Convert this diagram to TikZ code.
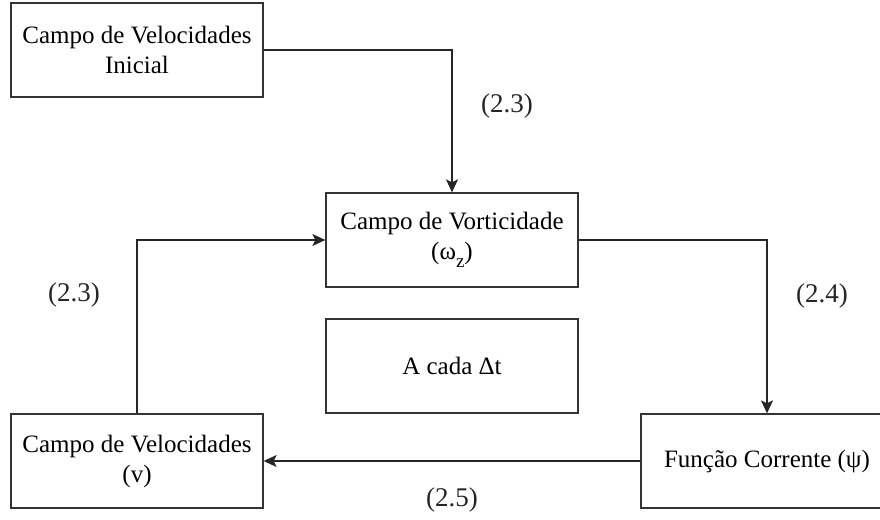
\documentclass[tikz,border=0pt]{standalone}
\usepackage{fontspec}
\setmainfont{Liberation Serif}
\usetikzlibrary{arrows.meta}
\begin{document}
\begin{tikzpicture}[x=1pt,y=-1pt,
  box/.style={draw=black!80,line width=1.3pt,minimum width=252pt,minimum height=94pt,
    align=center,inner sep=0pt,font=\fontsize{25}{30}\selectfont,fill=white},
  conn/.style={draw=black!85,line width=1.3pt,-{Stealth[length=13pt,width=12pt,inset=3pt]}},
  lbl/.style={font=\fontsize{27}{30}\selectfont,inner sep=0pt,text=black!85}]
\clip (0,0) rectangle (880,519);
\fill[white] (0,0) rectangle (880,519);
\node[box] (b1) at (137,50) {Campo de Velocidades\\Inicial};
\node[box] (b2) at (452,240) {Campo de Vorticidade\\(ω\raisebox{-0.3em}{\fontsize{19}{19}\selectfont z})};
\node[box] (b3) at (452,366) {A cada Δt};
\node[box] (b4) at (137,461) {Campo de Velocidades\\(v)};
\node[box] (b5) at (767,461) {Função Corrente (ψ)};
\draw[conn] (b1.east) -| (b2.north);
\draw[conn] (b2.east) -| (b5.north);
\draw[conn] (b5.west) -- (b4.east);
\draw[conn] (b4.north) |- (b2.west);
\node[lbl] (l1) at (507,106) {(2.3)};
\node[lbl] (l2) at (74,295) {(2.3)};
\node[lbl] (l3) at (822,296) {(2.4)};
\node[lbl] (l4) at (452,500) {(2.5)};
\end{tikzpicture}
\end{document}
